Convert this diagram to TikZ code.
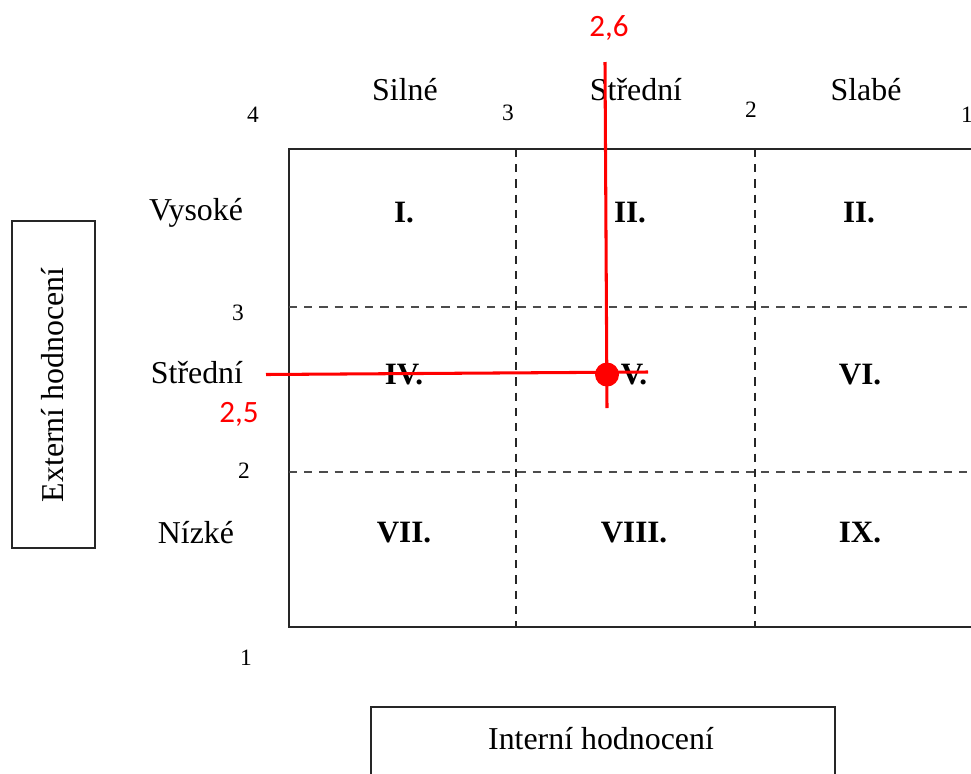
\documentclass[tikz,border=0pt]{standalone}
\usepackage{fontspec}
\setmainfont{Liberation Serif}
\newfontfamily\calfont{Carlito}
\begin{document}
\begin{tikzpicture}[x=0.03cm,y=-0.03cm,
  lbl/.style={inner sep=0pt,font=\fontsize{27.2}{31}\selectfont},
  num/.style={inner sep=0pt,font=\fontsize{20}{24}\selectfont},
  cell/.style={inner sep=0pt,font=\fontsize{26.5}{30}\selectfont\bfseries},
  val/.style={inner sep=0pt,text=red,font=\calfont\fontsize{26.5}{30}\selectfont},
  frameline/.style={draw=black!85,line width=1.6pt},
  divider/.style={draw=black!85,line width=1.2pt,dash pattern=on 7pt off 6pt},
  axisbox/.style={draw=black!85,line width=1.4pt},
  marker/.style={draw=red,line width=2.6pt}]
\useasboundingbox (0,0) rectangle (971,773);

% outer frame of the matrix (runs past the right edge)
\coordinate (fTL) at (289,149);
\coordinate (fBL) at (289,627);
\coordinate (fTR) at (1000,149);
\coordinate (fBR) at (1000,627);
\draw[frameline] (fTR) -- (fTL) -- (fBL) -- (fBR);

% dashed dividers
\coordinate (v1t) at (516,149); \coordinate (v1b) at (516,627);
\coordinate (v2t) at (755,149); \coordinate (v2b) at (755,627);
\coordinate (h1l) at (289,307); \coordinate (h1r) at (1000,307);
\coordinate (h2l) at (289,472); \coordinate (h2r) at (1000,472);
\draw[divider] (v1t) -- (v1b);
\draw[divider] (v2t) -- (v2b);
\draw[divider,draw=black!70] (h1l) -- (h1r);
\draw[divider,draw=black!70] (h2l) -- (h2r);

% column headings and scale
\node[lbl] (cS) at (405,90) {Silné};
\node[lbl] (cM) at (636,90) {Střední};
\node[lbl] (cW) at (866,90) {Slabé};
\node[num] (x4) at (253,115) {4};
\node[num] (x3) at (508,113) {3};
\node[num] (x2) at (751,110) {2};
\node[num] (x1) at (967,115) {1};

% row headings and scale
\node[lbl] (rH) at (196,213) {Vysoké};
\node[lbl] (rM) at (197,373) {Střední};
\node[lbl] (rL) at (196,533) {Nízké};
\node[num] (y3) at (238,313) {3};
\node[num] (y2) at (244,471) {2};
\node[num] (y1) at (246,658) {1};

% cells
\node[cell] (c1) at (404,213) {I.};
\node[cell] (c2) at (630,213) {II.};
\node[cell] (c3) at (859,213) {II.};
\node[cell] (c4) at (404,375) {IV.};
\node[cell] (c5) at (634,375) {V.};
\node[cell] (c6) at (860,375) {VI.};
\node[cell] (c7) at (404,533) {VII.};
\node[cell] (c8) at (634,533) {VIII.};
\node[cell] (c9) at (860,533) {IX.};

% axis titles
\node[axisbox,minimum width=83*0.03cm,minimum height=327*0.03cm,inner sep=0pt] (ext) at (53.5,384.5) {};
\node[lbl,rotate=90] (extT) at (53,385) {Externí hodnocení};
\node[axisbox,minimum width=464*0.03cm,minimum height=120*0.03cm,inner sep=0pt,anchor=north west] (int) at (370,706) {};
\node[lbl] (intT) at (601,739) {Interní hodnocení};

% position of the evaluated item
\node[val] (vx) at (609,28) {2,6};
\node[val] (vy) at (239,414) {2,5};
\coordinate (mT) at (605,62);
\coordinate (mB) at (607,408);
\coordinate (mL) at (266,374.5);
\coordinate (mR) at (648,372);
\draw[marker] (mT) -- (mB);
\draw[marker] (mL) -- (mR);
\node[circle,fill=red,minimum size=24*0.03cm,inner sep=0pt] (pt) at (607,374.5) {};
\end{tikzpicture}
\end{document}
